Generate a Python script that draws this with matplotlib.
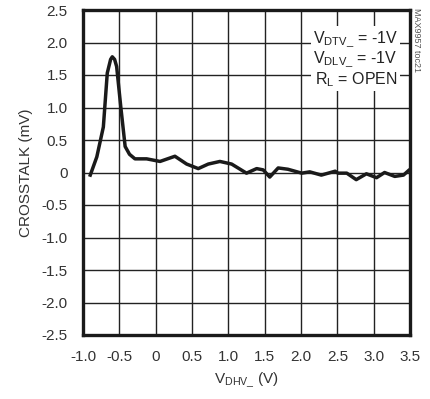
import matplotlib
matplotlib.use("Agg")
import matplotlib.pyplot as plt

plt.rcParams['font.family'] = ['Liberation Sans', 'DejaVu Sans']
plt.rcParams['mathtext.fontset'] = 'custom'
plt.rcParams['mathtext.rm'] = 'Liberation Sans'
plt.rcParams['mathtext.it'] = 'Liberation Sans'
plt.rcParams['mathtext.default'] = 'regular'

x_vals = [-0.90, -0.81, -0.72, -0.666, -0.62, -0.597, -0.565, -0.537, -0.48, -0.42, -0.36, -0.285,
          -0.124, 0.06, 0.265, 0.426, 0.586, 0.724, 0.884, 1.045, 1.25, 1.39, 1.48, 1.57,
          1.686, 1.82, 2.01, 2.12, 2.28, 2.47, 2.51, 2.63, 2.76, 2.90, 3.04, 3.15, 3.29,
          3.41, 3.48]
y_vals = [-0.04, 0.24, 0.70, 1.53, 1.74, 1.78, 1.74, 1.63, 1.01, 0.40, 0.28, 0.21,
          0.21, 0.17, 0.25, 0.13, 0.06, 0.13, 0.17, 0.13, -0.01, 0.06, 0.04, -0.07,
          0.07, 0.05, -0.01, 0.01, -0.04, 0.02, -0.01, -0.01, -0.11, -0.02, -0.08, 0.00, -0.06,
          -0.04, 0.03]

x_ticks = [-1.0, -0.5, 0, 0.5, 1.0, 1.5, 2.0, 2.5, 3.0, 3.5]
x_ticklabels = ['-1.0', '-0.5', '0', '0.5', '1.0', '1.5', '2.0', '2.5', '3.0', '3.5']
y_ticks = [-2.5, -2.0, -1.5, -1.0, -0.5, 0, 0.5, 1.0, 1.5, 2.0, 2.5]
y_ticklabels = ['-2.5', '-2.0', '-1.5', '-1.0', '-0.5', '0', '0.5', '1.0', '1.5', '2.0', '2.5']

fig = plt.figure(figsize=(4.30, 3.99), dpi=100)
ax = fig.add_axes([83/430, 1-335/399, (410-83)/430, (335-10)/399])

ax.plot(x_vals, y_vals, color='#1a1a1a', lw=2.5, solid_joinstyle='round', zorder=3)
ax.set_xlim(-1.0, 3.5)
ax.set_ylim(-2.5, 2.5)
ax.set_xticks(x_ticks)
ax.set_xticklabels(x_ticklabels)
ax.set_yticks(y_ticks)
ax.set_yticklabels(y_ticklabels)
ax.tick_params(axis='y', length=0, labelsize=11, colors='#333333', pad=11)
ax.tick_params(axis='x', length=0, labelsize=11, colors='#333333', pad=11)
ax.grid(True, color='#222222', lw=1.0)
ax.set_axisbelow(True)
for s in ax.spines.values():
    s.set_linewidth(2.4)
    s.set_color('#1a1a1a')

ax.set_ylabel('CROSSTALK (mV)', fontsize=11, color='#333333', labelpad=6)
ax.set_xlabel(r'V$_{DHV\_}$ (V)', fontsize=11, color='#333333', labelpad=5)

txt = r'V$_{DTV\_}$ = -1V' + '\n' + r'V$_{DLV\_}$ = -1V' + '\n' + r'R$_{L}$ = OPEN'
ax.text(3.33, 2.2, txt, fontsize=11.5, color='#222222', ha='right', va='top',
        linespacing=1.05, zorder=4,
        bbox=dict(facecolor='white', edgecolor='none', pad=1.5))

fig.text(417/430, 1-40/399, 'MAX9957 toc21', rotation=270, fontsize=6.5,
         color='#555555', ha='center', va='center')

fig.savefig('out.png', dpi=100)
